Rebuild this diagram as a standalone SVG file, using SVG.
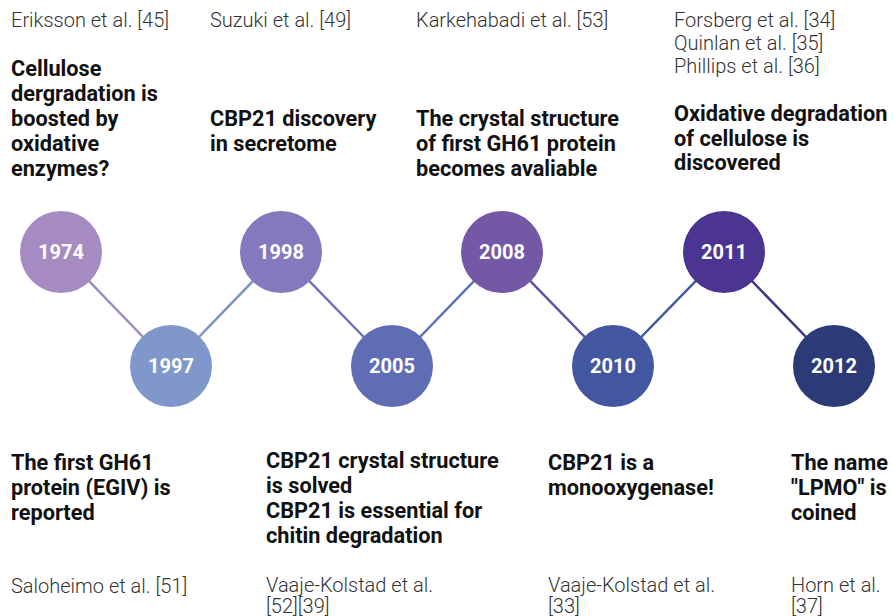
<svg xmlns="http://www.w3.org/2000/svg" width="893" height="616" viewBox="0 0 893 616">
<style>
.cite{font-family:Roboto,"Liberation Sans",sans-serif;font-size:20px;font-weight:300;fill:#333333}
.title{font-family:Roboto,"Liberation Sans",sans-serif;font-size:21.7px;font-weight:700;fill:#111111}
.year{font-family:Roboto,"Liberation Sans",sans-serif;font-size:20px;font-weight:700;fill:#ffffff;text-anchor:middle}
.link{stroke-width:2.5;fill:none}
</style>
<rect width="893" height="616" fill="#ffffff"/>
<g id="connectors">
<line class="link" x1="61" y1="252" x2="171" y2="366" stroke="#a08bc2"/>
<line class="link" x1="171" y1="366" x2="281" y2="252" stroke="#7c93c8"/>
<line class="link" x1="281" y1="252" x2="392" y2="366" stroke="#6e74b8"/>
<line class="link" x1="392" y1="366" x2="502" y2="252" stroke="#5e70b8"/>
<line class="link" x1="502" y1="252" x2="613" y2="366" stroke="#5e55a0"/>
<line class="link" x1="613" y1="366" x2="724" y2="252" stroke="#3f5aa0"/>
<line class="link" x1="724" y1="252" x2="834" y2="366" stroke="#3a3a80"/>
</g>
<g id="n1974">
<circle cx="61" cy="252" r="41" fill="#a68bc3"/>
<text class="year" x="61" y="259">1974</text>
<text class="cite" x="11" y="27">Eriksson et al. [45]</text>
<text class="title" x="11" y="76">Cellulose</text>
<text class="title" x="11" y="101">dergradation is</text>
<text class="title" x="11" y="126">boosted by</text>
<text class="title" x="11" y="151">oxidative</text>
<text class="title" x="11" y="176">enzymes?</text>
</g>
<g id="n1997">
<circle cx="171" cy="366" r="41" fill="#7f97ca"/>
<text class="year" x="171" y="373">1997</text>
<text class="title" x="11" y="470">The first GH61</text>
<text class="title" x="11" y="495">protein (EGIV) is</text>
<text class="title" x="11" y="520">reported</text>
<text class="cite" x="11" y="593">Saloheimo et al. [51]</text>
</g>
<g id="n1998">
<circle cx="281" cy="252" r="41" fill="#8479bc"/>
<text class="year" x="281" y="259">1998</text>
<text class="cite" x="210" y="27">Suzuki et al. [49]</text>
<text class="title" x="210" y="126">CBP21 discovery</text>
<text class="title" x="210" y="151">in secretome</text>
</g>
<g id="n2005">
<circle cx="392" cy="366" r="41" fill="#5f6db5"/>
<text class="year" x="392" y="373">2005</text>
<text class="title" x="266" y="468">CBP21 crystal structure</text>
<text class="title" x="266" y="493">is solved</text>
<text class="title" x="266" y="518">CBP21 is essential for</text>
<text class="title" x="266" y="543">chitin degradation</text>
<text class="cite" x="266" y="592">Vaaje-Kolstad et al.</text>
<text class="cite" x="266" y="613">[52][39]</text>
</g>
<g id="n2008">
<circle cx="502" cy="252" r="41" fill="#7358a6"/>
<text class="year" x="502" y="259">2008</text>
<text class="cite" x="416" y="27">Karkehabadi et al. [53]</text>
<text class="title" x="416" y="126">The crystal structure</text>
<text class="title" x="416" y="151">of first GH61 protein</text>
<text class="title" x="416" y="176">becomes avaliable</text>
</g>
<g id="n2010">
<circle cx="613" cy="366" r="41" fill="#4356a0"/>
<text class="year" x="613" y="373">2010</text>
<text class="title" x="548" y="470">CBP21 is a</text>
<text class="title" x="548" y="495">monooxygenase!</text>
<text class="cite" x="548" y="592">Vaaje-Kolstad et al.</text>
<text class="cite" x="548" y="613">[33]</text>
</g>
<g id="n2011">
<circle cx="724" cy="252" r="41" fill="#4b3590"/>
<text class="year" x="724" y="259">2011</text>
<text class="cite" x="674" y="27">Forsberg et al. [34]</text>
<text class="cite" x="674" y="50">Quinlan et al. [35]</text>
<text class="cite" x="674" y="73">Phillips et al. [36]</text>
<text class="title" x="674" y="121">Oxidative degradation</text>
<text class="title" x="674" y="146">of cellulose is</text>
<text class="title" x="674" y="170">discovered</text>
</g>
<g id="n2012">
<circle cx="834" cy="366" r="41" fill="#2c3a78"/>
<text class="year" x="834" y="373">2012</text>
<text class="title" x="791" y="470">The name</text>
<text class="title" x="791" y="495">"LPMO" is</text>
<text class="title" x="791" y="520">coined</text>
<text class="cite" x="791" y="592">Horn et al.</text>
<text class="cite" x="791" y="613">[37]</text>
</g>
</svg>
